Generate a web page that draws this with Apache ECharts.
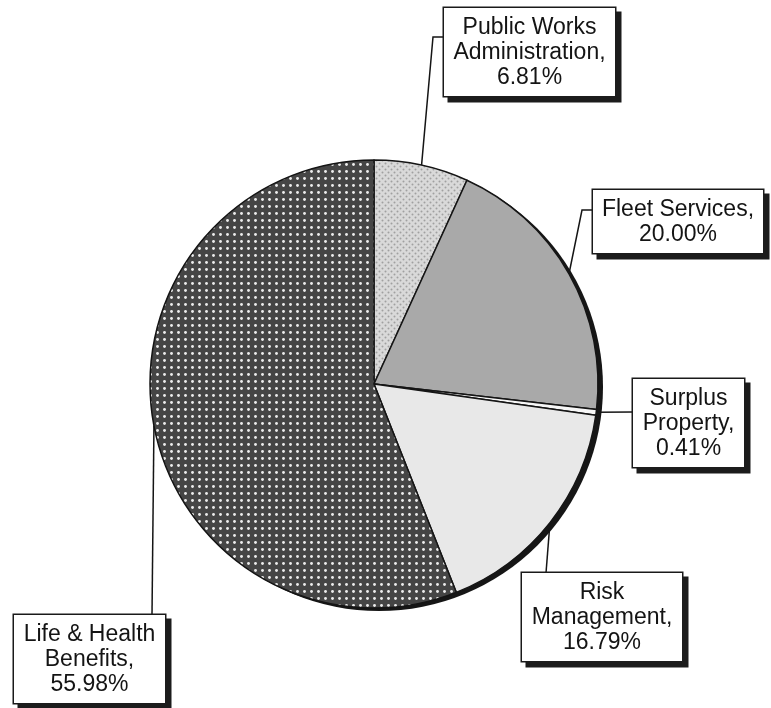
<!DOCTYPE html>
<html>
<head>
<meta charset="utf-8">
<title>Internal Service Funds – Share by Division</title>
<script src="https://cdn.jsdelivr.net/npm/echarts@6/dist/echarts.min.js"></script>
<style>
  html, body { margin: 0; padding: 0; background: #ffffff; }
  #chart { width: 771px; height: 708px; }
</style>
</head>
<body>
<div id="chart"></div>
<script>
// Divisions, in clockwise order starting at 12 o'clock
const categories = [
  'Public Works Administration',
  'Fleet Services',
  'Surplus Property',
  'Risk Management',
  'Life & Health Benefits'
];
// Wrapped label text for each division (the percentage is appended)
const labelText = [
  ['Public Works', 'Administration,'],
  ['Fleet Services,'],
  ['Surplus', 'Property,'],
  ['Risk', 'Management,'],
  ['Life & Health', 'Benefits,']
];
// Share of the total, percent
const shares = [6.81, 20.00, 0.41, 16.79, 55.98];

// ---- fills -------------------------------------------------------------
function makePattern(size, bg, dots, dotColor, dotR) {
  const c = document.createElement('canvas');
  c.width = size; c.height = size;
  const g = c.getContext('2d');
  g.fillStyle = bg;
  g.fillRect(0, 0, size, size);
  g.fillStyle = dotColor;
  dots.forEach(function (d) {
    g.beginPath();
    g.arc(d[0], d[1], dotR, 0, Math.PI * 2);
    g.fill();
  });
  return { image: c, repeat: 'repeat' };
}
const fills = [
  makePattern(6, '#d9d9d9', [[1.5, 1.5], [4.5, 4.5]], '#a0a0a0', 1.0),   // fine cross-hatch
  '#a9a9a9',
  '#f7f7f7',
  '#e8e8e8',
  makePattern(7, '#454545', [[3.5, 3.5]], '#ececec', 1.45)                // dark with white dots
];

// ---- callout boxes: box top-left, optional elbow, where the leader meets the box
const padH = 7;
const callouts = [
  { box: [444, 8],   elbow: [433, 37],  join: [444, 37],  width: 157 },
  { box: [593, 190], elbow: [582, 210], join: [593, 210], width: 156 },
  { box: [633, 379], elbow: null,       join: [633, 412], width: 97 },
  { box: [522, 573], elbow: null,       join: [546, 573], width: 146 },
  { box: [14, 615],  elbow: null,       join: [152, 615], width: 137 }
];

const pieCenter = [374, 384];
const pieRadius = 224;

const data = categories.map(function (name, i) {
  return {
    name: name,
    value: shares[i],
    itemStyle: { color: fills[i] },
    label: { width: callouts[i].width }
  };
});

const chart = echarts.init(document.getElementById('chart'), null, { renderer: 'canvas' });

chart.setOption({
  backgroundColor: '#ffffff',
  animation: false,
  series: [
    {
      // solid disc underneath that casts the offset shadow of the pie
      type: 'pie',
      silent: true,
      z: 1,
      center: pieCenter,
      radius: pieRadius,
      label: { show: false },
      labelLine: { show: false },
      itemStyle: {
        color: '#161616',
        shadowColor: '#161616',
        shadowBlur: 0,
        shadowOffsetX: 5,
        shadowOffsetY: 3
      },
      data: [{ value: 1, name: 'shadow' }]
    },
    {
      type: 'pie',
      z: 2,
      center: pieCenter,
      radius: pieRadius,
      startAngle: 90,
      clockwise: true,
      avoidLabelOverlap: false,
      itemStyle: { borderColor: '#151515', borderWidth: 1.5 },
      emphasis: { disabled: true },
      label: {
        show: true,
        position: 'outside',
        fontFamily: '"Liberation Sans", Arial, sans-serif',
        fontSize: 23,
        lineHeight: 25,
        color: '#141414',
        align: 'center',
        backgroundColor: '#ffffff',
        borderColor: '#1a1a1a',
        borderWidth: 1.5,
        padding: [7, padH, 6, padH],
        shadowColor: '#1c1c1c',
        shadowBlur: 0,
        shadowOffsetX: 5,
        shadowOffsetY: 5,
        formatter: function (p) {
          return labelText[p.dataIndex].concat(p.value.toFixed(2) + '%').join('\n');
        }
      },
      labelLine: {
        show: true,
        length: 20,
        length2: 10,
        smooth: false,
        lineStyle: { color: '#151515', width: 1.5 }
      },
      labelLayout: function (params) {
        const c = callouts[params.dataIndex];
        const anchor = params.labelLinePoints[0];
        const pts = [anchor];
        if (c.elbow) pts.push(c.elbow);
        pts.push(c.join);
        return {
          x: c.box[0] + (c.width + 2 * padH) / 2,
          y: c.box[1],
          align: 'center',
          verticalAlign: 'top',
          labelLinePoints: pts
        };
      },
      data: data
    }
  ]
});
</script>
</body>
</html>
